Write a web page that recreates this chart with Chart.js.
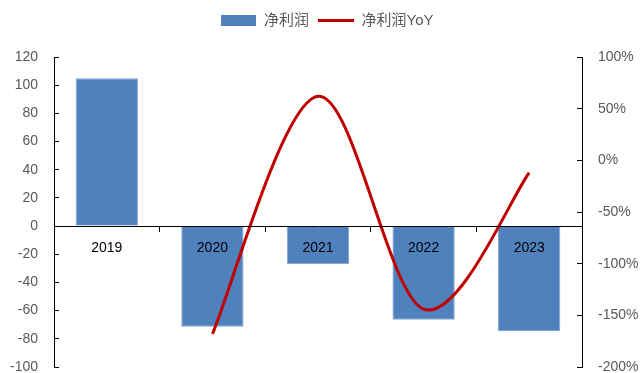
<!DOCTYPE html>
<html>
<head>
<meta charset="utf-8">
<script src="https://cdn.jsdelivr.net/npm/chart.js@4/dist/chart.umd.min.js"></script>
<style>
  html, body { margin: 0; padding: 0; background: #fff; }
  #wrap { width: 640px; height: 373px; position: relative; }
</style>
</head>
<body>
<div id="wrap"><canvas id="c"></canvas></div>
<script>
// Years on the category axis
const years = ['2019', '2020', '2021', '2022', '2023'];
// Net profit (left axis)
const netProfit = [105, -71.5, -27, -66.5, -74.5];
// Net profit YoY, % (right axis)
const netProfitYoY = [null, -168, 62, -144, -12];
// Axis ranges
const leftTicks = { min: -100, max: 120, step: 20 };
const rightTicks = { min: -200, max: 100, step: 50 };

const BLUE = '#4F81BD';
const RED = '#C00000';
const GREY = '#595959';
const FONT = "'Liberation Sans', 'Noto Sans CJK SC', sans-serif";

// Wide blue swatch for the bar series legend entry
const swatch = document.createElement('canvas');
swatch.width = 35; swatch.height = 11;
const sctx = swatch.getContext('2d');
sctx.fillStyle = BLUE; sctx.fillRect(0, 0, 35, 11);

// Leave extra room between the legend and the plot, and nudge the legend right
const legendGap = {
  id: 'legendGap',
  afterInit(chart) {
    const legend = chart.legend;
    if (!legend) return;
    const fit = legend.fit;
    legend.fit = function () {
      fit.call(this);
      this.height += 19;
    };
  },
  afterLayout(chart) {
    const legend = chart.legend;
    if (!legend) return;
    legend.left += 7;
    legend.right += 7;
  }
};

// Smooth the line with a uniform Catmull-Rom spline (control arms = 1/6 of the neighbour chord)
const catmullRom = {
  id: 'catmullRom',
  beforeDatasetsDraw(chart) {
    chart.data.datasets.forEach((ds, i) => {
      if (ds.type !== 'line') return;
      const meta = chart.getDatasetMeta(i);
      const line = meta.dataset;
      const pts = meta.data.filter(p => !p.skip);
      pts.forEach((p, k) => {
        const prev = pts[k - 1] || p;
        const next = pts[k + 1] || p;
        const dx = (next.x - prev.x) / 6;
        const dy = (next.y - prev.y) / 6;
        p.cp1x = p.x - dx; p.cp1y = p.y - dy;
        p.cp2x = p.x + dx; p.cp2y = p.y + dy;
      });
      if (line) {
        line._pointsUpdated = true;
        delete line._path;
      }
    });
  }
};

new Chart(document.getElementById('c'), {
  data: {
    labels: years,
    datasets: [
      {
        type: 'line',
        label: '净利润YoY',
        data: netProfitYoY,
        yAxisID: 'y1',
        borderColor: RED,
        backgroundColor: RED,
        borderWidth: 3,
        pointRadius: 0,
        pointStyle: 'line',
        tension: 0.4,
        order: 0
      },
      {
        type: 'bar',
        label: '净利润',
        data: netProfit,
        yAxisID: 'y',
        backgroundColor: BLUE,
        borderColor: '#7FA3D2',
        borderWidth: 1,
        categoryPercentage: 1,
        barPercentage: 0.59,
        pointStyle: swatch,
        order: 1
      }
    ]
  },
  plugins: [legendGap, catmullRom],
  options: {
    responsive: true,
    maintainAspectRatio: false,
    animation: false,
    layout: { padding: { top: 4, bottom: 6, left: 0, right: 0 } },
    plugins: {
      tooltip: { enabled: false },
      legend: {
        position: 'top',
        reverse: true,
        labels: {
          usePointStyle: true,
          pointStyleWidth: 36,
          boxHeight: 11,
          padding: 9,
          color: GREY,
          font: { family: FONT, size: 15 }
        }
      }
    },
    scales: {
      x: {
        type: 'category',
        position: { y: 0 },
        offset: true,
        border: { display: true, color: '#000', width: 1, z: 1 },
        grid: { display: true, drawOnChartArea: false, drawTicks: true, tickLength: 5, color: '#000', offset: true, z: 1 },
        ticks: { color: '#000', padding: 9, z: 1, font: { family: FONT, size: 14 } }
      },
      y: {
        type: 'linear',
        position: 'left',
        min: leftTicks.min,
        max: leftTicks.max,
        border: { display: true, color: '#000', width: 1 },
        grid: { drawOnChartArea: false, drawTicks: true, tickLength: -5, color: '#000' },
        ticks: { stepSize: leftTicks.step, color: GREY, padding: 21, font: { family: FONT, size: 14 } },
        afterFit(s) { s.width = 54; s.paddingTop = 0; s.paddingBottom = 0; }
      },
      y1: {
        type: 'linear',
        position: 'right',
        min: rightTicks.min,
        max: rightTicks.max,
        border: { display: true, color: '#000', width: 1 },
        grid: { drawOnChartArea: false, drawTicks: true, tickLength: -5, color: '#000' },
        ticks: { stepSize: rightTicks.step, color: GREY, padding: 21, font: { family: FONT, size: 14 },
                 callback: v => v + '%' },
        afterFit(s) { s.width = 58; s.paddingTop = 0; s.paddingBottom = 0; }
      }
    }
  }
});
</script>
</body>
</html>
